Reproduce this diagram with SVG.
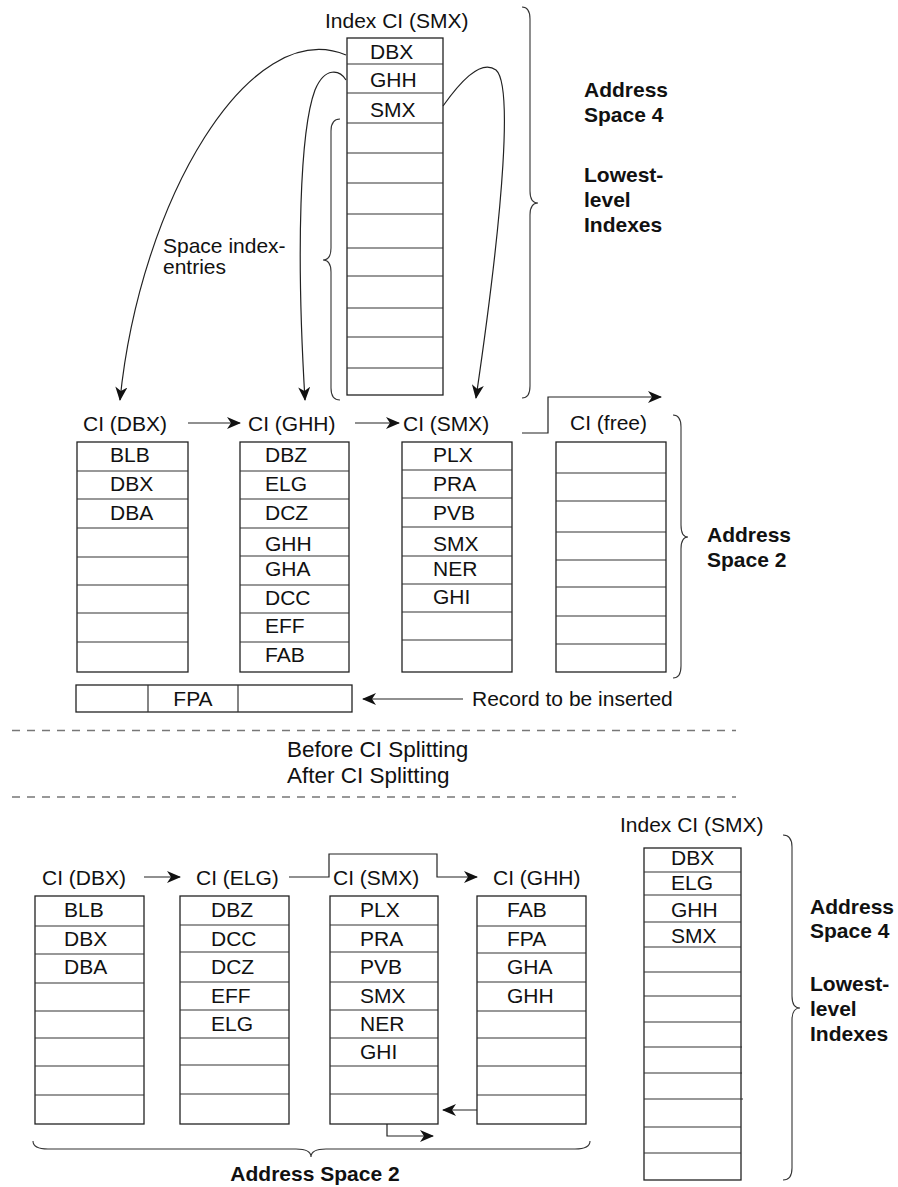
<svg xmlns="http://www.w3.org/2000/svg" width="898" height="1187" viewBox="0 0 898 1187">
<style>
.t{font-family:"Liberation Sans",Arial,sans-serif;font-size:21px;fill:#111}
.b{font-weight:bold}
.big{font-size:22.5px}
.box{fill:#fff;stroke:#222;stroke-width:1.3}
.ln{stroke:#333;stroke-width:1.2}
.con{fill:none;stroke:#222;stroke-width:1.2}
.ar{marker-end:url(#ah)}
.brace{fill:none;stroke:#333;stroke-width:1.1}
.dash{stroke:#777;stroke-width:1.5;stroke-dasharray:8 7}
</style>
<defs>
<marker id="ah" markerWidth="14" markerHeight="12" refX="13" refY="6" orient="auto" markerUnits="userSpaceOnUse">
<path d="M0,0 L14,6 L0,12 L4,6 z" fill="#111"/>
</marker>
</defs>
<rect width="898" height="1187" fill="#fff"/>

<!-- ===== BEFORE ===== -->
<g id="index-top">
<text class="t" x="325" y="28">Index CI (SMX)</text>
<rect class="box" x="347" y="38" width="96" height="357"/>
<g class="ln">
<line x1="347" y1="64" x2="443" y2="64"/><line x1="347" y1="93" x2="443" y2="93"/><line x1="347" y1="123" x2="443" y2="123"/>
<line x1="347" y1="153" x2="443" y2="153"/><line x1="347" y1="183" x2="443" y2="183"/><line x1="347" y1="214" x2="443" y2="214"/>
<line x1="347" y1="248" x2="443" y2="248"/><line x1="347" y1="276" x2="443" y2="276"/><line x1="347" y1="308" x2="443" y2="308"/>
<line x1="347" y1="337" x2="443" y2="337"/><line x1="347" y1="368" x2="443" y2="368"/>
</g>
<text class="t" x="370" y="59">DBX</text>
<text class="t" x="370" y="87">GHH</text>
<text class="t" x="370" y="117">SMX</text>
</g>

<g id="label-as4-top">
<path class="brace" d="M522,7 Q530,7 530,19 L530,191 Q530,203 538,203 Q530,203 530,215 L530,386 Q530,398 522,398"/>
<text class="t b" x="584" y="97">Address</text>
<text class="t b" x="584" y="122">Space 4</text>
<text class="t b" x="584" y="182">Lowest-</text>
<text class="t b" x="584" y="207">level</text>
<text class="t b" x="584" y="232">Indexes</text>
</g>

<g id="label-space-index">
<path class="brace" d="M340,119 Q331,119 331,131 L331,248 Q331,260 323,260 Q331,260 331,272 L331,388 Q331,400 340,400"/>
<text class="t" x="163" y="253">Space index-</text>
<text class="t" x="163" y="274">entries</text>
</g>

<g id="ci-dbx-1">
<text class="t" x="83" y="431">CI (DBX)</text>
<rect class="box" x="77" y="442" width="111" height="230"/>
<g class="ln">
<line x1="77" y1="471" x2="188" y2="471"/><line x1="77" y1="499" x2="188" y2="499"/><line x1="77" y1="528" x2="188" y2="528"/>
<line x1="77" y1="557" x2="188" y2="557"/><line x1="77" y1="585" x2="188" y2="585"/><line x1="77" y1="613" x2="188" y2="613"/>
<line x1="77" y1="642" x2="188" y2="642"/>
</g>
<text class="t" x="110" y="462">BLB</text>
<text class="t" x="110" y="491">DBX</text>
<text class="t" x="110" y="520">DBA</text>
</g>

<g id="ci-ghh-1">
<text class="t" x="248" y="431">CI (GHH)</text>
<rect class="box" x="240" y="442" width="109" height="230"/>
<g class="ln">
<line x1="240" y1="471" x2="349" y2="471"/><line x1="240" y1="499" x2="349" y2="499"/><line x1="240" y1="528" x2="349" y2="528"/>
<line x1="240" y1="556" x2="349" y2="556"/><line x1="240" y1="585" x2="349" y2="585"/><line x1="240" y1="613" x2="349" y2="613"/>
<line x1="240" y1="642" x2="349" y2="642"/>
</g>
<text class="t" x="265" y="462">DBZ</text>
<text class="t" x="265" y="491">ELG</text>
<text class="t" x="265" y="520">DCZ</text>
<text class="t" x="265" y="551">GHH</text>
<text class="t" x="265" y="576">GHA</text>
<text class="t" x="265" y="605">DCC</text>
<text class="t" x="265" y="633">EFF</text>
<text class="t" x="265" y="662">FAB</text>
</g>

<g id="ci-smx-1">
<text class="t" x="403" y="431">CI (SMX)</text>
<rect class="box" x="402" y="442" width="110" height="230"/>
<g class="ln">
<line x1="402" y1="470" x2="512" y2="470"/><line x1="402" y1="498" x2="512" y2="498"/><line x1="402" y1="527" x2="512" y2="527"/>
<line x1="402" y1="556" x2="512" y2="556"/><line x1="402" y1="584" x2="512" y2="584"/><line x1="402" y1="612" x2="512" y2="612"/>
<line x1="402" y1="640" x2="512" y2="640"/>
</g>
<text class="t" x="433" y="462">PLX</text>
<text class="t" x="433" y="491">PRA</text>
<text class="t" x="433" y="520">PVB</text>
<text class="t" x="433" y="551">SMX</text>
<text class="t" x="433" y="576">NER</text>
<text class="t" x="433" y="604">GHI</text>
</g>

<g id="ci-free-1">
<text class="t" x="570" y="430">CI (free)</text>
<rect class="box" x="556" y="442" width="110" height="230"/>
<g class="ln">
<line x1="556" y1="473" x2="666" y2="473"/><line x1="556" y1="501" x2="666" y2="501"/><line x1="556" y1="532" x2="666" y2="532"/>
<line x1="556" y1="560" x2="666" y2="560"/><line x1="556" y1="587" x2="666" y2="587"/><line x1="556" y1="616" x2="666" y2="616"/>
<line x1="556" y1="644" x2="666" y2="644"/>
</g>
</g>

<g id="label-as2-mid">
<path class="brace" d="M673,415 Q681,415 681,427 L681,525 Q681,537 688,537 Q681,537 681,549 L681,666 Q681,678 673,678"/>
<text class="t b" x="707" y="542">Address</text>
<text class="t b" x="707" y="567">Space 2</text>
</g>

<g id="record-fpa">
<rect class="box" x="76" y="685" width="276" height="27"/>
<line class="ln" x1="148" y1="685" x2="148" y2="712"/>
<line class="ln" x1="238" y1="685" x2="238" y2="712"/>
<text class="t" x="193" y="706" text-anchor="middle">FPA</text>
<text class="t" x="472" y="706">Record to be inserted</text>
</g>

<g id="separator">
<line class="dash" x1="12" y1="730.5" x2="736" y2="730.5"/>
<text class="t big" x="287" y="757">Before CI Splitting</text>
<text class="t big" x="287" y="783">After CI Splitting</text>
<line class="dash" x1="12" y1="797" x2="736" y2="797"/>
</g>

<!-- ===== AFTER ===== -->
<g id="ci-dbx-2">
<text class="t" x="42" y="885">CI (DBX)</text>
<rect class="box" x="35" y="896" width="109" height="228"/>
<g class="ln">
<line x1="35" y1="926" x2="144" y2="926"/><line x1="35" y1="954" x2="144" y2="954"/><line x1="35" y1="983" x2="144" y2="983"/>
<line x1="35" y1="1011" x2="144" y2="1011"/><line x1="35" y1="1038" x2="144" y2="1038"/><line x1="35" y1="1066" x2="144" y2="1066"/>
<line x1="35" y1="1095" x2="144" y2="1095"/>
</g>
<text class="t" x="64" y="917">BLB</text>
<text class="t" x="64" y="946">DBX</text>
<text class="t" x="64" y="974">DBA</text>
</g>

<g id="ci-elg-2">
<text class="t" x="196" y="885">CI (ELG)</text>
<rect class="box" x="180" y="896" width="109" height="228"/>
<g class="ln">
<line x1="180" y1="925" x2="289" y2="925"/><line x1="180" y1="952" x2="289" y2="952"/><line x1="180" y1="982" x2="289" y2="982"/>
<line x1="180" y1="1010" x2="289" y2="1010"/><line x1="180" y1="1038" x2="289" y2="1038"/><line x1="180" y1="1065" x2="289" y2="1065"/>
<line x1="180" y1="1094" x2="289" y2="1094"/>
</g>
<text class="t" x="211" y="917">DBZ</text>
<text class="t" x="211" y="946">DCC</text>
<text class="t" x="211" y="974">DCZ</text>
<text class="t" x="211" y="1003">EFF</text>
<text class="t" x="211" y="1031">ELG</text>
</g>

<g id="ci-smx-2">
<text class="t" x="333" y="885">CI (SMX)</text>
<rect class="box" x="330" y="896" width="108" height="228"/>
<g class="ln">
<line x1="330" y1="925" x2="438" y2="925"/><line x1="330" y1="952" x2="438" y2="952"/><line x1="330" y1="982" x2="438" y2="982"/>
<line x1="330" y1="1010" x2="438" y2="1010"/><line x1="330" y1="1038" x2="438" y2="1038"/><line x1="330" y1="1066" x2="438" y2="1066"/>
<line x1="330" y1="1094" x2="438" y2="1094"/>
</g>
<text class="t" x="360" y="917">PLX</text>
<text class="t" x="360" y="946">PRA</text>
<text class="t" x="360" y="974">PVB</text>
<text class="t" x="360" y="1003">SMX</text>
<text class="t" x="360" y="1031">NER</text>
<text class="t" x="360" y="1059">GHI</text>
</g>

<g id="ci-ghh-2">
<text class="t" x="493" y="885">CI (GHH)</text>
<rect class="box" x="477" y="896" width="109" height="228"/>
<g class="ln">
<line x1="477" y1="926" x2="586" y2="926"/><line x1="477" y1="953" x2="586" y2="953"/><line x1="477" y1="982" x2="586" y2="982"/>
<line x1="477" y1="1011" x2="586" y2="1011"/><line x1="477" y1="1038" x2="586" y2="1038"/><line x1="477" y1="1066" x2="586" y2="1066"/>
<line x1="477" y1="1095" x2="586" y2="1095"/>
</g>
<text class="t" x="507" y="917">FAB</text>
<text class="t" x="507" y="946">FPA</text>
<text class="t" x="507" y="974">GHA</text>
<text class="t" x="507" y="1003">GHH</text>
</g>

<g id="index-bottom">
<text class="t" x="620" y="832">Index CI (SMX)</text>
<rect class="box" x="644" y="848" width="97" height="332"/>
<g class="ln">
<line x1="644" y1="872" x2="741" y2="872"/><line x1="644" y1="895" x2="741" y2="895"/><line x1="644" y1="922" x2="741" y2="922"/>
<line x1="644" y1="947" x2="741" y2="947"/><line x1="644" y1="972" x2="741" y2="972"/><line x1="644" y1="996" x2="741" y2="996"/>
<line x1="644" y1="1022" x2="741" y2="1022"/><line x1="644" y1="1047" x2="742" y2="1047"/><line x1="644" y1="1073" x2="742" y2="1073"/>
<line x1="644" y1="1099" x2="743" y2="1099"/><line x1="644" y1="1127" x2="741" y2="1127"/><line x1="644" y1="1153" x2="741" y2="1153"/>
</g>
<text class="t" x="671" y="865">DBX</text>
<text class="t" x="671" y="890">ELG</text>
<text class="t" x="671" y="917">GHH</text>
<text class="t" x="671" y="943">SMX</text>
</g>

<g id="label-as4-bottom">
<path class="brace" d="M783,835 Q792,835 792,847 L792,996 Q792,1008 800,1008 Q792,1008 792,1020 L792,1168 Q792,1180 783,1180"/>
<text class="t b" x="810" y="914">Address</text>
<text class="t b" x="810" y="938">Space 4</text>
<text class="t b" x="810" y="991">Lowest-</text>
<text class="t b" x="810" y="1016">level</text>
<text class="t b" x="810" y="1041">Indexes</text>
</g>

<g id="label-as2-bottom">
<path class="brace" d="M33,1141 Q33,1149 48,1149 L296,1149 Q311,1149 311,1157 Q311,1149 326,1149 L575,1149 Q590,1149 590,1141"/>
<text class="t b" x="315" y="1181" text-anchor="middle">Address Space 2</text>
</g>

<g id="connectors">
<path class="con ar" d="M346,55 C250,15 140,200 120,400"/>
<path class="con ar" d="M346,80 C340,70 325,66 315,90 C300,130 296,250 305,400"/>
<path class="con ar" d="M443,106 C458,85 480,58 496,70 C512,84 505,200 476,398"/>
<path class="con ar" d="M188,423 L240,423"/>
<path class="con ar" d="M355,423 L399,423"/>
<path class="con ar" d="M522,433 L548,433 L548,397 L661,397"/>
<path class="con ar" d="M463,699 L363,699"/>
<path class="con ar" d="M144,877 L180,877"/>
<path class="con ar" d="M289,877 L329,877 L329,854 L437,854 L437,877 L477,877"/>
<path class="con ar" d="M477,1110 L443,1110"/>
<path class="con ar" d="M387,1124 L387,1136 L433,1136"/>
</g>
</svg>
